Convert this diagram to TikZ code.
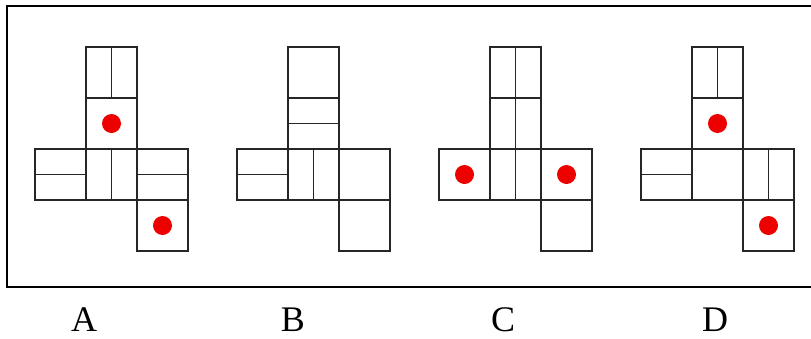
\documentclass[tikz,border=0pt]{standalone}
\usepackage{fontspec}
\setmainfont{Liberation Serif}
\usepackage{tikz}
\definecolor{dotred}{RGB}{236,0,0}
\tikzset{
netline/.style={draw=black!85, line width=1.5pt},
every node/.style={inner sep=0pt, font=\fontsize{36}{38}\selectfont},
}
% one cell of a net: square plus its mark
\newcommand{\cellbox}[2]{\draw[netline] (#1,#2) rectangle ++(51,51);}
\newcommand{\cellv}[2]{\cellbox{#1}{#2}\draw[netline] (#1+25.5,#2) -- ++(0,51);}
\newcommand{\cellh}[2]{\cellbox{#1}{#2}\draw[netline] (#1,#2+25.5) -- ++(51,0);}
\newcommand{\celld}[2]{\cellbox{#1}{#2}\fill[dotred] (#1+25.5,#2+25.5) circle (9.5pt);}
\newcommand{\celle}[2]{\cellbox{#1}{#2}}

\begin{document}
\begin{tikzpicture}[x=1pt,y=-1pt]
\useasboundingbox (0,0) rectangle (811,338);
% frame, its right side lies past the edge
\draw[line width=2.2pt] (812,6) -- (7,6) -- (7,287) -- (812,287);

\foreach \ox/\cells in {
35/{1/0/v,1/1/d,0/2/h,1/2/v,2/2/h,2/3/d},
237/{1/0/e,1/1/h,0/2/h,1/2/v,2/2/e,2/3/e},
439/{1/0/v,1/1/v,0/2/d,1/2/v,2/2/d,2/3/e},
641/{1/0/v,1/1/d,0/2/h,1/2/e,2/2/v,2/3/d}} {
\foreach \c/\r/\m in \cells {
\pgfmathsetmacro{\cx}{\ox + \c*51}
\pgfmathsetmacro{\cy}{47 + \r*51}
\csname cell\m\endcsname{\cx}{\cy}
}
}

\node[anchor=base] (labA) at (84,331) {A};
\node[anchor=base] (labB) at (293,331) {B};
\node[anchor=base] (labC) at (503,331) {C};
\node[anchor=base] (labD) at (715,331) {D};

\end{tikzpicture}
\end{document}
